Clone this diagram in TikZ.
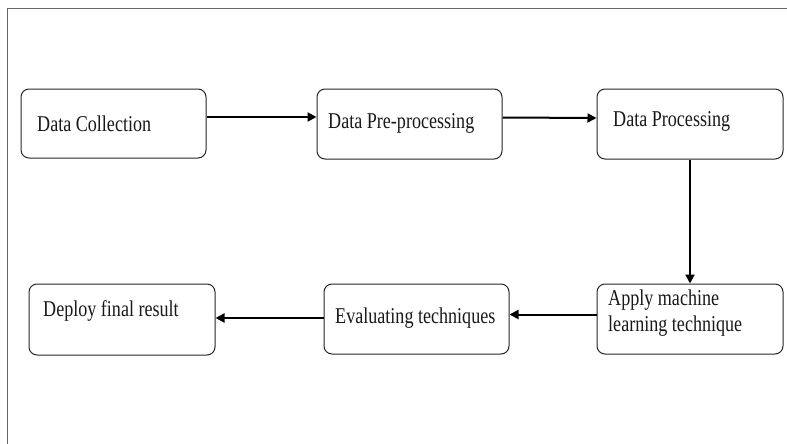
\documentclass[tikz,border=0pt]{standalone}
\usepackage{fontspec}
\setmainfont{Liberation Serif}[FakeStretch=0.8]
\usetikzlibrary{arrows.meta}
\begin{document}
\begin{tikzpicture}[x=1pt,y=-1pt,
  box/.style={draw=black!85,line width=1pt,rounded corners=8pt,inner sep=0pt},
  lbl/.style={anchor=base west,inner sep=0pt,font=\fontsize{22.6}{26}\selectfont,text=black!90,align=left},
  conn/.style={draw=black,line width=2pt,-{Triangle[length=9pt,width=9pt]}}]
\useasboundingbox (0,0) rectangle (787,444);
\draw[black!60,line width=1pt] (7.5,444) -- (7.5,9) -- (787,9);
% boxes
\node[box,minimum width=185pt,minimum height=69pt] (b1) at (113.5,123.5) {};
\node[box,minimum width=185pt,minimum height=70pt] (b2) at (409.5,124) {};
\node[box,minimum width=186pt,minimum height=70pt] (b3) at (690,124) {};
\node[box,minimum width=186pt,minimum height=70pt] (b4) at (690,319) {};
\node[box,minimum width=185pt,minimum height=70pt] (b5) at (416.5,319) {};
\node[box,minimum width=186pt,minimum height=71pt] (b6) at (122,319.5) {};
% labels
\node[lbl] (t1) at (37,131.7) {Data Collection};
\node[lbl] (t2) at (328,128) {Data Pre-processing};
\node[lbl] (t3) at (613,126) {Data Processing};
\node[lbl] (t4) at (608,331) {Apply machine\\learning technique};
\node[lbl] (t5) at (335,323) {Evaluating techniques};
\node[lbl] (t6) at (43,316.5) {Deploy final result};
% connectors
\draw[conn] (b1.east |- 0,117) -- (b2.west |- 0,117);
\draw[conn] (b2.east |- 0,117.5) -- (b3.west |- 0,118);
\draw[conn] (b3.south) -- (b4.north);
\draw[conn] (b4.west |- 0,314.5) -- (b5.east |- 0,314.5);
\draw[conn] (b5.west |- 0,318) -- (b6.east |- 0,318);
\end{tikzpicture}
\end{document}
